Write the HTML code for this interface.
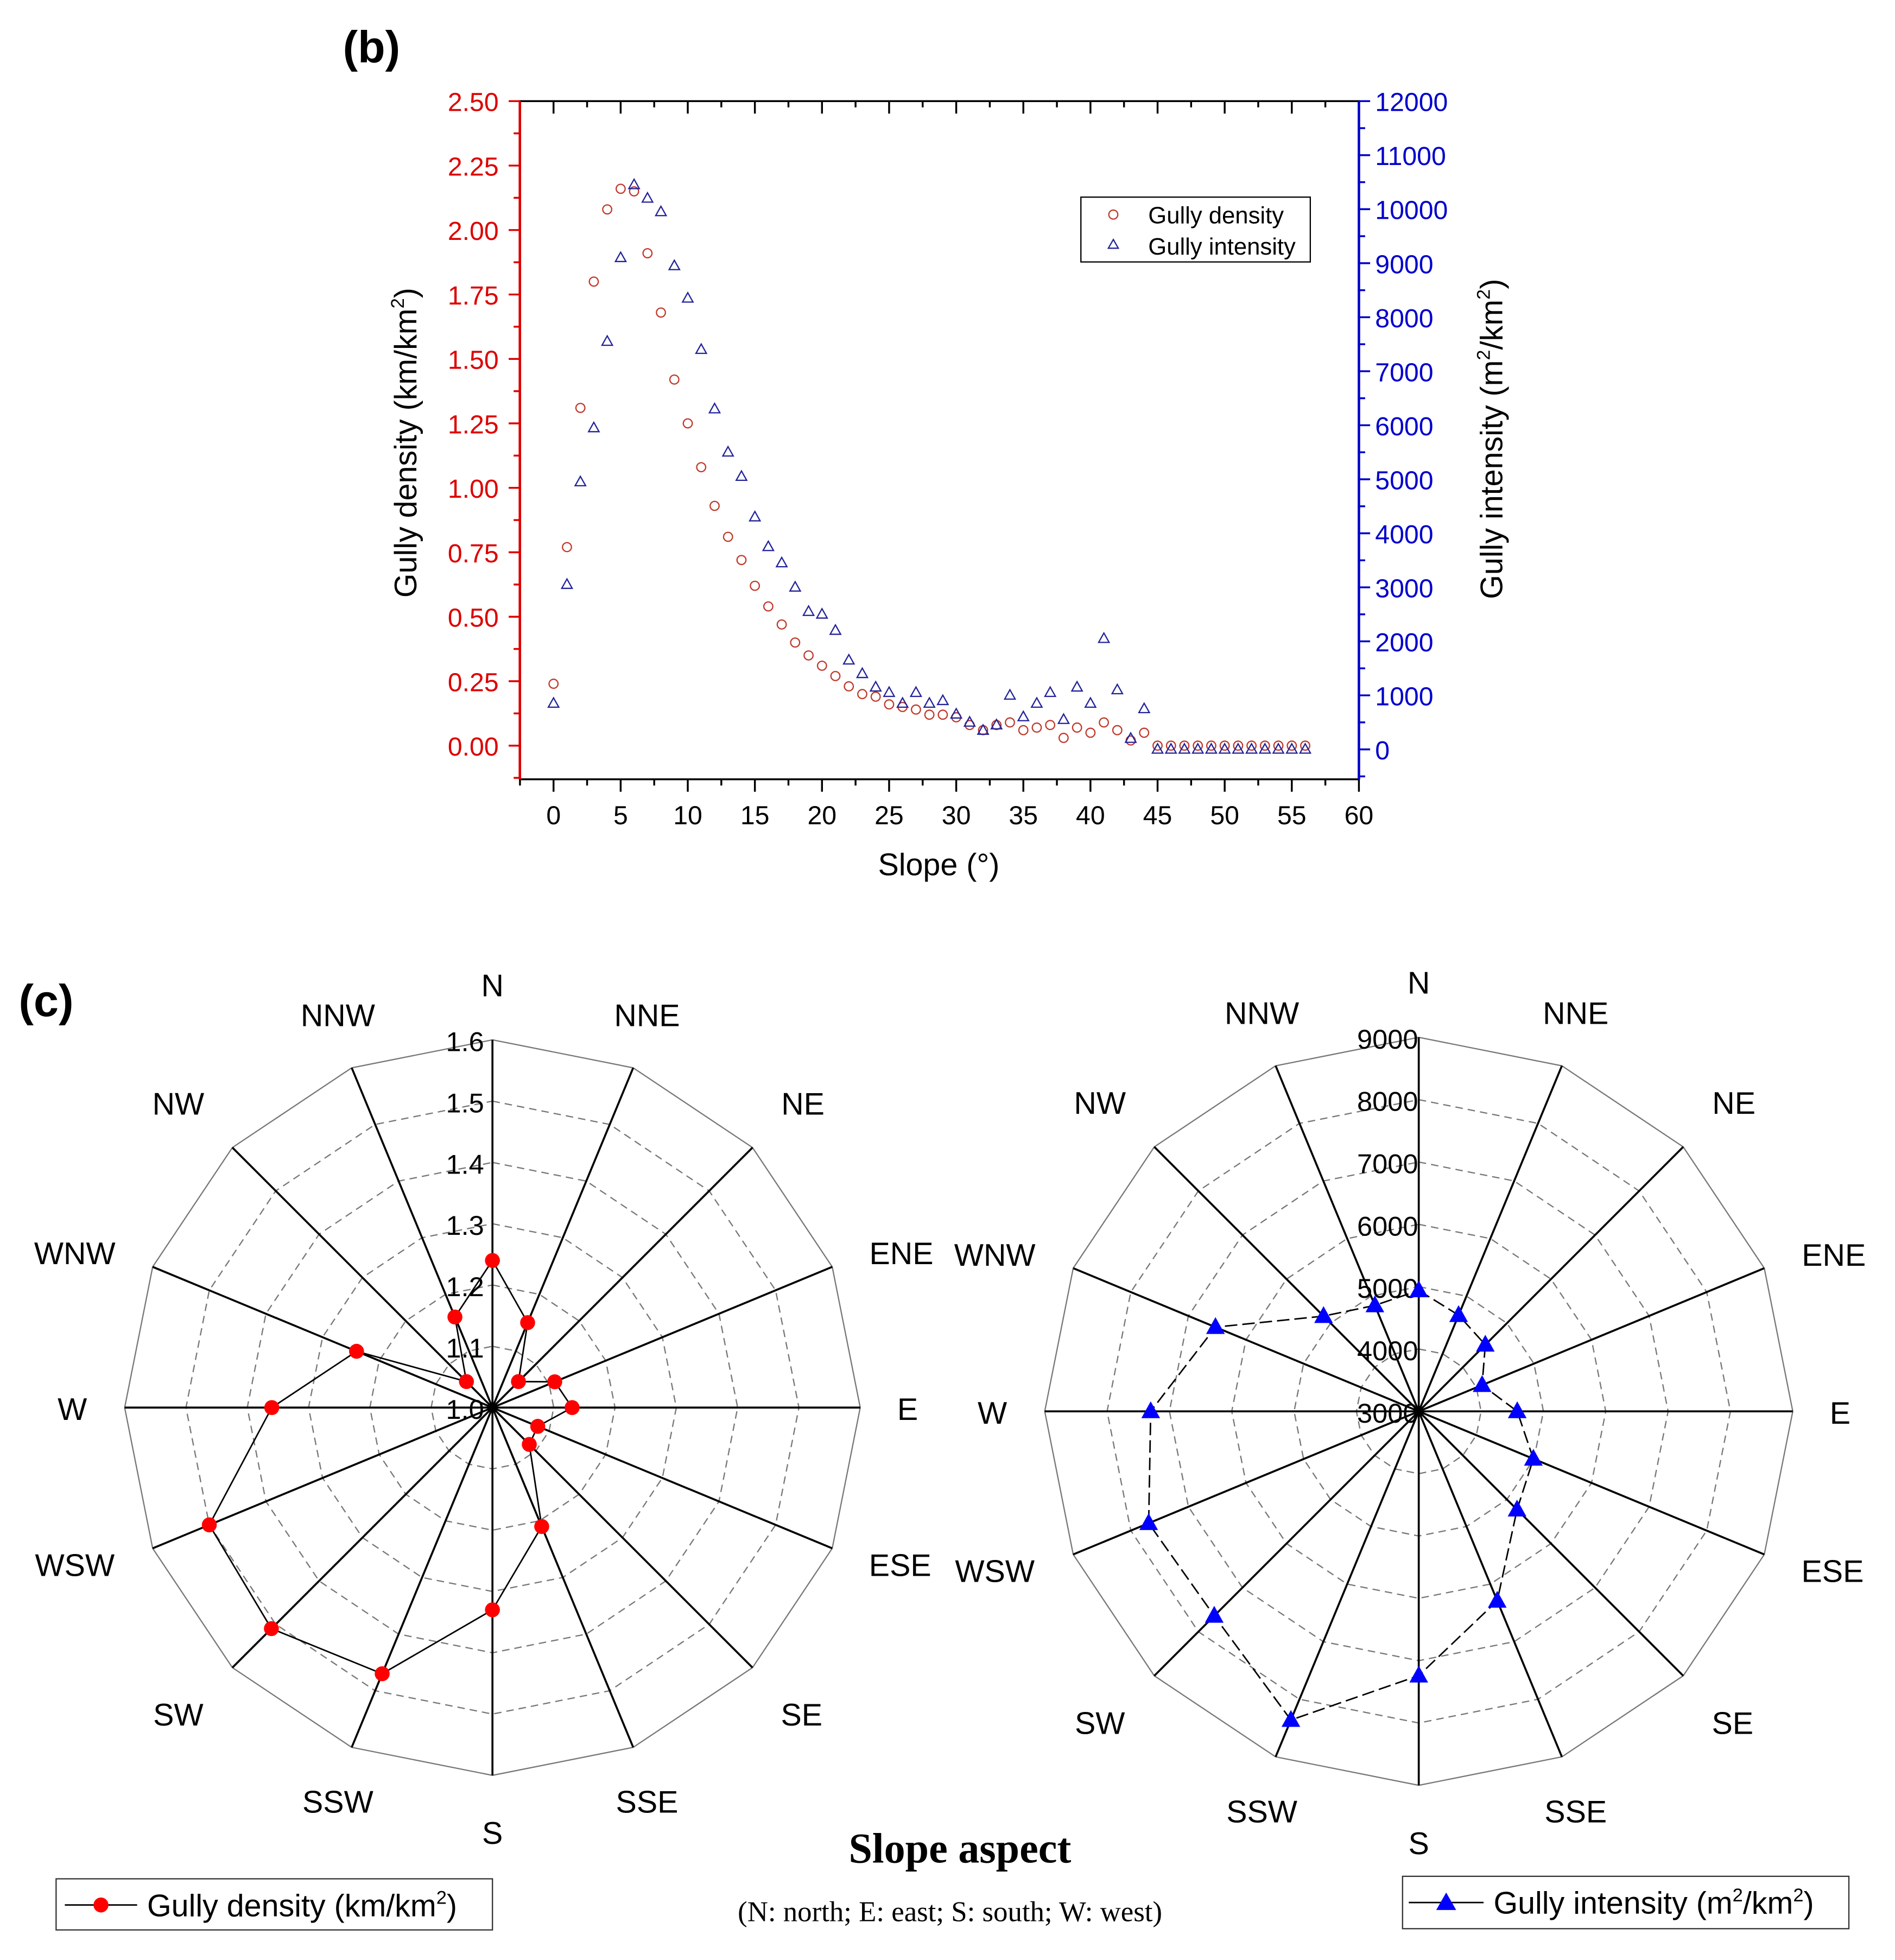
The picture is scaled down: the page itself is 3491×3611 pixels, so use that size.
<!DOCTYPE html>
<html><head><meta charset="utf-8"><style>
html,body{margin:0;padding:0;background:#fff;}
svg{display:block;}
text{font-family:"Liberation Sans",sans-serif;}
</style></head><body>
<svg id="fig" width="3491" height="3611" viewBox="0 0 1520 1572" xmlns="http://www.w3.org/2000/svg">
<rect x="0" y="0" width="1520" height="1572" fill="#fff"/>
<text x="275" y="50" font-size="36" font-weight="bold">(b)</text>
<text x="15" y="815" font-size="36" font-weight="bold">(c)</text>
<g id="scatter"></g>
<g id="radarL"></g>
<g id="radarR"></g>
<text x="770" y="1494" font-size="34" font-weight="bold" text-anchor="middle" style="font-family:'Liberation Serif',serif">Slope aspect</text>
<text x="762" y="1541" font-size="23" text-anchor="middle" style="font-family:'Liberation Serif',serif">(N: north; E: east; S: south; W: west)</text>
<g>
<rect x="45" y="1507" width="350" height="41" fill="none" stroke="#333" stroke-width="1"/>
<line x1="52" y1="1528" x2="110" y2="1528" stroke="#000" stroke-width="1.2"/>
<circle cx="81" cy="1528" r="6" fill="#f00"/>
<text x="118" y="1537" font-size="25">Gully density (km/km<tspan font-size="15" dy="-10">2</tspan><tspan dy="10">)</tspan></text>
</g>
<g>
<rect x="1125" y="1505" width="358" height="42" fill="none" stroke="#333" stroke-width="1"/>
<line x1="1130" y1="1526" x2="1190" y2="1526" stroke="#000" stroke-width="1.2"/>
<path d="M1160 1518 L1168 1532 L1152 1532 Z" fill="#00f"/>
<text x="1198" y="1535" font-size="25">Gully intensity (m<tspan font-size="15" dy="-10">2</tspan><tspan dy="10">/km</tspan><tspan font-size="15" dy="-10">2</tspan><tspan dy="10">)</tspan></text>
</g>
</svg>
<script>
const slopes=[];for(let i=0;i<=56;i++)slopes.push(i);
const densityVals=[0.24,0.77,1.31,1.80,2.08,2.16,2.15,1.91,1.68,1.42,1.25,1.08,0.93,0.81,0.72,0.62,0.54,0.47,0.40,0.35,0.31,0.27,0.23,0.20,0.19,0.16,0.15,0.14,0.12,0.12,0.11,0.08,0.06,0.08,0.09,0.06,0.07,0.08,0.03,0.07,0.05,0.09,0.06,0.02,0.05,0,0,0,0,0,0,0,0,0,0,0,0];
const intensityVals=[850,3050,4950,5950,7550,9100,10450,10200,9950,8950,8350,7400,6300,5500,5050,4300,3750,3450,3000,2550,2500,2200,1650,1400,1150,1050,850,1050,850,900,650,500,350,450,1000,600,850,1050,550,1150,850,2050,1100,200,750,0,0,0,0,0,0,0,0,0,0,0,0];
const xTicks=[0,5,10,15,20,25,30,35,40,45,50,55,60];
const yLeftTicks=["0.00","0.25","0.50","0.75","1.00","1.25","1.50","1.75","2.00","2.25","2.50"];
const yRightTicks=[0,1000,2000,3000,4000,5000,6000,7000,8000,9000,10000,11000,12000];
const dirs=["N","NNE","NE","ENE","E","ESE","SE","SSE","S","SSW","SW","WSW","W","WNW","NW","NNW"];
const densityAspect=[1.24,1.15,1.06,1.11,1.13,1.08,1.085,1.21,1.33,1.47,1.51,1.50,1.36,1.24,1.06,1.16];
const intensityAspect=[4940,4670,4510,4100,4580,4990,5230,6290,7240,8360,7640,7690,7300,6530,5160,4840];
const densityRings=["1.0","1.1","1.2","1.3","1.4","1.5","1.6"];
const intensityRings=["3000","4000","5000","6000","7000","8000","9000"];
const labDx=[0,124,249,328,333,327,248,124,0,-124,-252,-335,-337,-335,-252,-124];
const labDy=[-339,-315,-244,-124,1,126,246,316,341,316,246,126,1,-124,-244,-315];

const NS="http://www.w3.org/2000/svg";
function mk(parent,tag,attrs,txt){const e=document.createElementNS(NS,tag);for(const k in attrs)e.setAttribute(k,attrs[k]);if(txt!==undefined)e.textContent=txt;parent.appendChild(e);return e;}

// scatter
const sc=document.getElementById('scatter');
const X0=417,X1=1090,Y0=81,Y1=625;
const xs=v=>444+v*(1090-444)/60;
const yl=v=>598-v*(598-81)/2.5;
const yr=v=>601-v*(601-81)/12000;
let t;
t=mk(sc,'rect',{x:X0,y:Y0,width:X1-X0,height:Y1-Y0,fill:'none',stroke:'#000','stroke-width':1.5});

for(let v=-2.5;v<=60;v+=2.5){const x=xs(v);const maj=(v%5===0);
 mk(sc,'line',{x1:x,y1:Y1,x2:x,y2:Y1+(maj?10:5),stroke:'#000','stroke-width':1.5});
 mk(sc,'line',{x1:x,y1:Y0,x2:x,y2:Y0+(maj?10:5),stroke:'#000','stroke-width':1.5});}
xTicks.forEach(v=>{t=mk(sc,'text',{x:xs(v),y:661,'font-size':21,'text-anchor':'middle'},String(v));
 });
mk(sc,'line',{x1:X0,y1:Y0,x2:X0,y2:Y1,stroke:'#d00','stroke-width':2});
for(let i=-1;i<=21;i++){const v=i*0.125;const y=yl(v);if(y<Y0-1||y>Y1)continue;mk(sc,'line',{x1:X0,y1:y,x2:X0-(i%2===0?9:5),y2:y,stroke:'#d00','stroke-width':1.5});}
yLeftTicks.forEach(s=>{t=mk(sc,'text',{x:400,y:yl(parseFloat(s))+8,'font-size':21,'text-anchor':'end',fill:'#d00'},s);
 });
mk(sc,'line',{x1:X1,y1:Y0,x2:X1,y2:Y1,stroke:'#00c','stroke-width':2});
for(let v=-500;v<=12000;v+=500){const y=yr(v);mk(sc,'line',{x1:X1,y1:y,x2:X1+(v%1000===0?9:5),y2:y,stroke:'#00c','stroke-width':1.5});}
yRightTicks.forEach(v=>{t=mk(sc,'text',{x:1103,y:yr(v)+8,'font-size':21,fill:'#00c'},String(v));
 });
t=mk(sc,'text',{x:753,y:702,'font-size':25,'text-anchor':'middle'},'Slope (°)');

t=mk(sc,'text',{x:0,y:0,'font-size':25,'text-anchor':'middle',transform:'translate(334,355) rotate(-90)'});
t.innerHTML='Gully density (km/km<tspan font-size="15" dy="-10">2</tspan><tspan dy="10">)</tspan>';

t=mk(sc,'text',{x:0,y:0,'font-size':25,'text-anchor':'middle',transform:'translate(1205,352) rotate(-90)'});
t.innerHTML='Gully intensity (m<tspan font-size="15" dy="-10">2</tspan><tspan dy="10">/km</tspan><tspan font-size="15" dy="-10">2</tspan><tspan dy="10">)</tspan>';

slopes.forEach((s,i)=>{
 t=mk(sc,'circle',{cx:xs(s),cy:yl(densityVals[i]),r:3.6,fill:'none',stroke:'#c0392b','stroke-width':1});
 
 const x=xs(s),y=yr(intensityVals[i]);
 t=mk(sc,'path',{d:`M${x} ${y-4.5} L${x+4.2} ${y+3} L${x-4.2} ${y+3} Z`,fill:'none',stroke:'#22229a','stroke-width':1});
 
});
t=mk(sc,'g',{});
mk(t,'rect',{x:867,y:158,width:184,height:52,fill:'#fff',stroke:'#000','stroke-width':1});
mk(t,'circle',{cx:893,cy:172,r:3.6,fill:'none',stroke:'#c0392b','stroke-width':1});
mk(t,'path',{d:'M893 192 L897 199 L889 199 Z',fill:'none',stroke:'#22229a','stroke-width':1});
mk(t,'text',{x:921,y:179,'font-size':19},'Gully density');
mk(t,'text',{x:921,y:204,'font-size':19},'Gully intensity');

// radar
function radar(gid,cx,cy,R,mn,mx,vals,rings,kind,labScale){
 const g=document.getElementById(gid);
 const ang=i=>i*Math.PI/8;
 const pt=(i,r)=>[cx+r*Math.sin(ang(i)),cy-r*Math.cos(ang(i))];
 for(let k=1;k<rings.length;k++){const r=R*k/(rings.length-1);
  const p=dirs.map((d,i)=>pt(i,r).join(',')).join(' ');
  const e=mk(g,'polygon',{points:p,fill:'none',stroke:'#777','stroke-width':1,'stroke-dasharray':k===rings.length-1?'none':'6 4'});
  }
 dirs.forEach((d,i)=>{const [x,y]=pt(i,R);
  const e=mk(g,'line',{x1:cx,y1:cy,x2:x,y2:y,stroke:'#000','stroke-width':1.6});
  
  const lx=cx+labDx[i]*labScale, ly=cy+labDy[i]*labScale;
  const tx=mk(g,'text',{x:lx,y:ly+9,'font-size':25,'text-anchor':'middle'},d);
  });
 rings.forEach((s,k)=>{const e=mk(g,'text',{x:cx-(kind==='d'?22:25),y:cy-R*k/(rings.length-1)+9,'font-size':22,'text-anchor':'middle'},s);
  });
 const pts=vals.map((v,i)=>pt(i,(v-mn)/(mx-mn)*R));
 const e=mk(g,'polygon',{points:pts.map(p=>p.join(',')).join(' '),fill:'none',stroke:'#000','stroke-width':1.2,'stroke-dasharray':kind==='d'?'none':'10 4'});
 
 pts.forEach(([x,y])=>{let m;
  if(kind==='d'){m=mk(g,'circle',{cx:x,cy:y,r:6,fill:'#f00'});}
  else{m=mk(g,'path',{d:`M${x} ${y-8} L${x+7.5} ${y+5.5} L${x-7.5} ${y+5.5} Z`,fill:'#00f'});}
  });
}
radar('radarL',395,1129,295,1.0,1.6,densityAspect,densityRings,'d',1.0);
radar('radarR',1138,1132,300,3000,9000,intensityAspect,intensityRings,'i',1.015);
</script>
</body></html>
